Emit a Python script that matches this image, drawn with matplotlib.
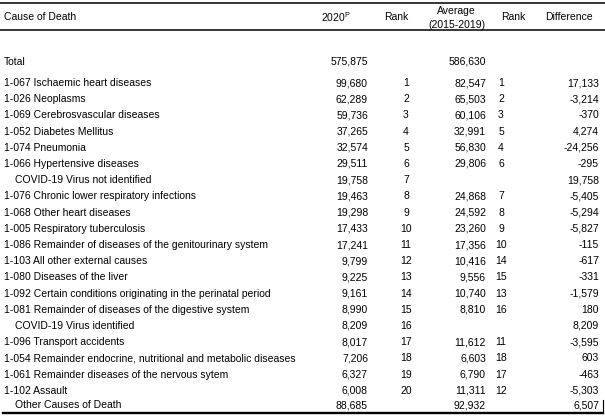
import matplotlib.pyplot as plt

plt.rcParams['font.family'] = ['Liberation Sans', 'DejaVu Sans']
plt.rcParams['mathtext.fontset'] = 'custom'
plt.rcParams['mathtext.rm'] = 'Liberation Sans'

causes = [
    "1-067 Ischaemic heart diseases",
    "1-026 Neoplasms",
    "1-069 Cerebrosvascular diseases",
    "1-052 Diabetes Mellitus",
    "1-074 Pneumonia",
    "1-066 Hypertensive diseases",
    "COVID-19 Virus not identified",
    "1-076 Chronic lower respiratory infections",
    "1-068 Other heart diseases",
    "1-005 Respiratory tuberculosis",
    "1-086 Remainder of diseases of the genitourinary system",
    "1-103 All other external causes",
    "1-080 Diseases of the liver",
    "1-092 Certain conditions originating in the perinatal period",
    "1-081 Remainder of diseases of the digestive system",
    "COVID-19 Virus identified",
    "1-096 Transport accidents",
    "1-054 Remainder endocrine, nutritional and metabolic diseases",
    "1-061 Remainder diseases of the nervous sytem",
    "1-102 Assault",
    "Other Causes of Death",
]
deaths_2020 = [99680, 62289, 59736, 37265, 32574, 29511, 19758, 19463, 19298, 17433,
               17241, 9799, 9225, 9161, 8990, 8209, 8017, 7206, 6327, 6008, 88685]
rank_2020 = [1, 2, 3, 4, 5, 6, 7, 8, 9, 10, 11, 12, 13, 14, 15, 16, 17, 18, 19, 20, None]
avg_1519 = [82547, 65503, 60106, 32991, 56830, 29806, None, 24868, 24592, 23260,
            17356, 10416, 9556, 10740, 8810, None, 11612, 6603, 6790, 11311, 92932]
rank_avg = [1, 2, 3, 5, 4, 6, None, 7, 8, 9, 10, 14, 15, 13, 16, None, 11, 18, 17, 12, None]
difference = [17133, -3214, -370, 4274, -24256, -295, 19758, -5405, -5294, -5827,
              -115, -617, -331, -1579, 180, 8209, -3595, 603, -463, -5303, 6507]
total_2020 = 575875
total_avg = 586630

W, H = 605, 418
fig = plt.figure(figsize=(W / 100, H / 100), dpi=100)
ax = fig.add_axes([0, 0, 1, 1])
ax.set_xlim(0, W)
ax.set_ylim(H, 0)
ax.axis('off')

fs = 7.5
def txt(x, y, s, ha='left'):
    ax.text(x, y, s, ha=ha, va='center', fontsize=fs, color='black')

def fmt(v):
    return f"{v:,}"

# header
txt(4, 17, "Cause of Death")
txt(351, 17, "2020$^{\\mathrm{P}}$", ha='right')
txt(396, 17, "Rank", ha='center')
txt(456, 11, "Average", ha='center')
txt(457, 25, "(2015-2019)", ha='center')
txt(513, 17, "Rank", ha='center')
txt(593, 17, "Difference", ha='right')

# total
txt(4, 62, "Total")
txt(368, 62, fmt(total_2020), ha='right')
txt(486, 62, fmt(total_avg), ha='right')

y0, step = 83, 16.2
for i, c in enumerate(causes):
    y = y0 + i * step
    if i == len(causes) - 1:
        y -= 1.5
    indent = 15 if c.startswith("COVID") or c.startswith("Other") else 4
    txt(indent, y, c)
    txt(368, y, fmt(deaths_2020[i]), ha='right')
    if rank_2020[i] is not None:
        txt(406, y, str(rank_2020[i]), ha='center')
    if avg_1519[i] is not None:
        txt(486, y, fmt(avg_1519[i]), ha='right')
    if rank_avg[i] is not None:
        txt(501, y, str(rank_avg[i]), ha='center')
    txt(599, y, fmt(difference[i]), ha='right')

# rules
ax.plot([0, W], [3, 3], color='black', lw=1.1)
ax.plot([0, W], [30, 30], color='black', lw=1.1)
ax.plot([3, 603], [412.5, 412.5], color='black', lw=1.7)
ax.plot([603, 603], [400, 413], color='black', lw=0.8)

fig.savefig("out.png", dpi=100)
